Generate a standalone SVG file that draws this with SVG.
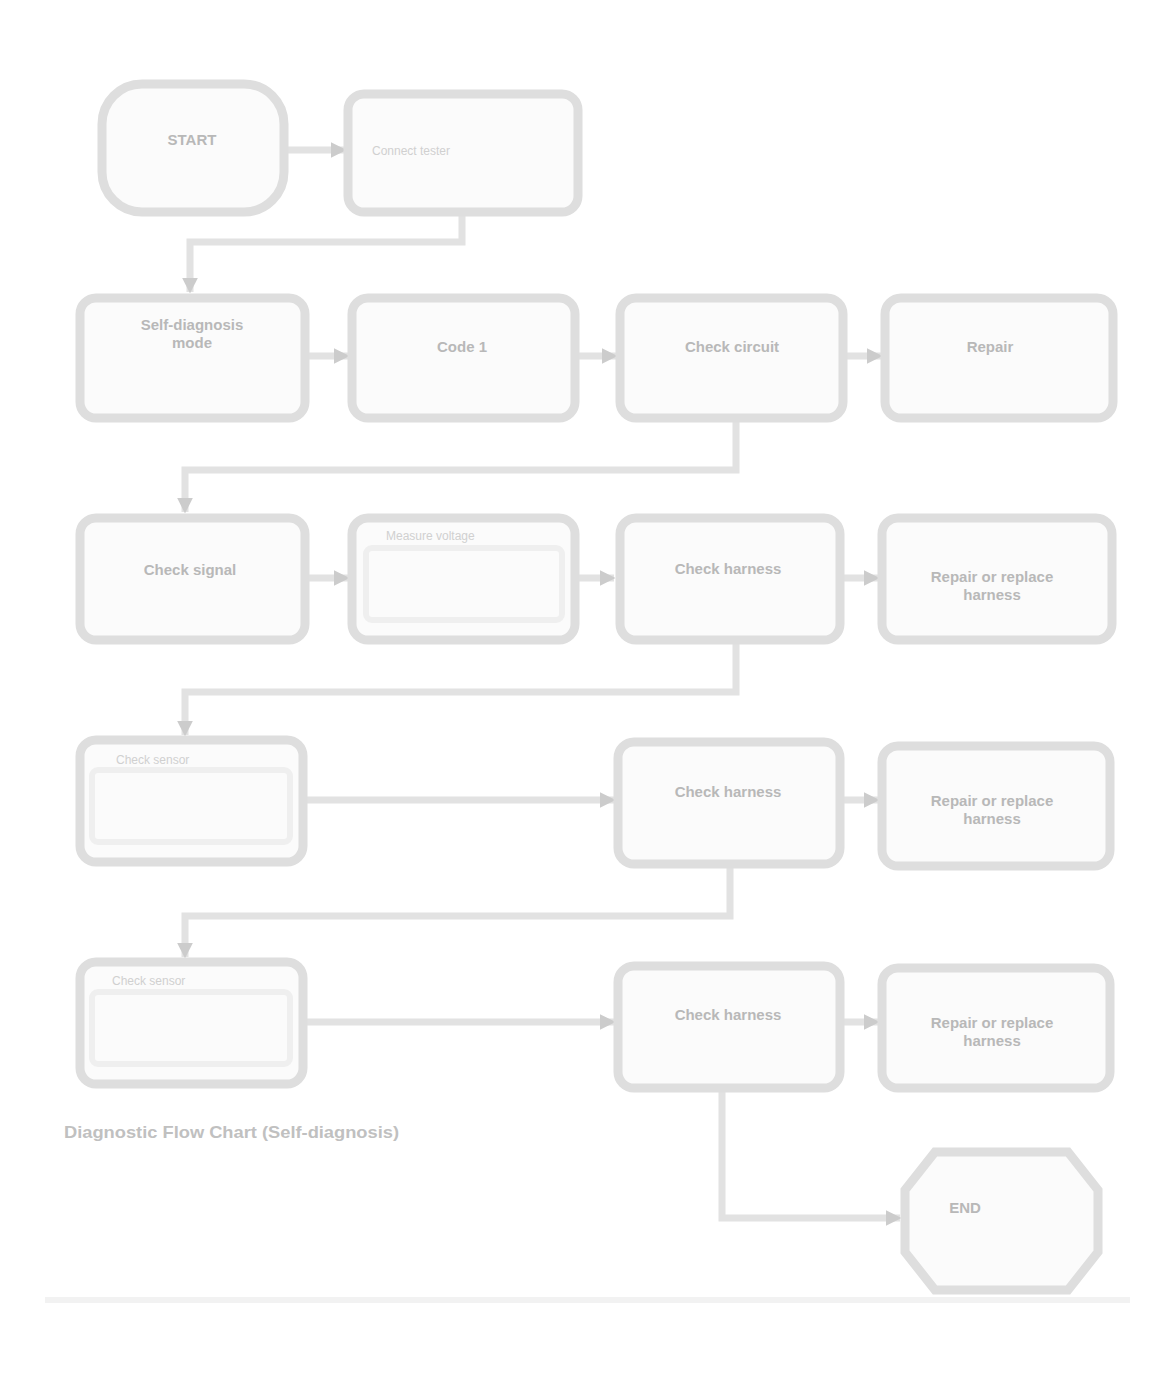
<svg xmlns="http://www.w3.org/2000/svg" width="1173" height="1376" viewBox="0 0 1173 1376">
<style>
.box{fill:#fbfbfb;stroke:#dedede;stroke-width:9}
.in{fill:none;stroke:#efefef;stroke-width:6}
.con{fill:none;stroke:#e2e2e2;stroke-width:7}
.t{font-family:"Liberation Sans",Arial,sans-serif;font-weight:bold;font-size:15px;fill:#b8b8b8;text-anchor:middle}
.s{font-family:"Liberation Sans",Arial,sans-serif;font-size:12px;fill:#d0d0d0;text-anchor:start}
.cap{font-family:"Liberation Sans",Arial,sans-serif;font-weight:bold;font-size:17px;fill:#c0c0c0}
</style>
<defs>
<marker id="ah" viewBox="0 0 10 10" refX="9" refY="5" markerUnits="userSpaceOnUse" markerWidth="16" markerHeight="16" orient="auto"><path d="M0,0 L10,5 L0,10 z" fill="#cccccc"/></marker>
</defs>
<rect width="1173" height="1376" fill="#ffffff"/>
<g id="connectors">
<path class="con" d="M285 150 L345 150" marker-end="url(#ah)"/>
<path class="con" d="M462 212 L462 242 L190 242 L190 292" marker-end="url(#ah)"/>
<path class="con" d="M305 356 L348 356" marker-end="url(#ah)"/>
<path class="con" d="M575 356 L616 356" marker-end="url(#ah)"/>
<path class="con" d="M843 356 L881 356" marker-end="url(#ah)"/>
<path class="con" d="M736 418 L736 470 L185 470 L185 512" marker-end="url(#ah)"/>
<path class="con" d="M305 578 L348 578" marker-end="url(#ah)"/>
<path class="con" d="M575 578 L614 578" marker-end="url(#ah)"/>
<path class="con" d="M840 578 L878 578" marker-end="url(#ah)"/>
<path class="con" d="M736 640 L736 692 L185 692 L185 735" marker-end="url(#ah)"/>
<path class="con" d="M303 800 L614 800" marker-end="url(#ah)"/>
<path class="con" d="M840 800 L878 800" marker-end="url(#ah)"/>
<path class="con" d="M730 864 L730 916 L185 916 L185 957" marker-end="url(#ah)"/>
<path class="con" d="M303 1022 L614 1022" marker-end="url(#ah)"/>
<path class="con" d="M840 1022 L878 1022" marker-end="url(#ah)"/>
<path class="con" d="M722 1088 L722 1218 L900 1218" marker-end="url(#ah)"/>
</g>
<g id="n_start"><rect class="box" x="102" y="84" width="182" height="128" rx="40"/><text class="t" x="192" y="145">START</text></g>
<g id="n_s2"><rect class="box" x="348" y="94" width="230" height="118" rx="16"/><text class="s" x="372" y="155">Connect tester</text></g>
<g id="n_r1a"><rect class="box" x="80" y="298" width="225" height="120" rx="16"/><text class="t" x="192" y="330">Self-diagnosis</text><text class="t" x="192" y="348">mode</text></g>
<g id="n_r1b"><rect class="box" x="352" y="298" width="223" height="120" rx="16"/><text class="t" x="462" y="352">Code 1</text></g>
<g id="n_r1c"><rect class="box" x="620" y="298" width="223" height="120" rx="16"/><text class="t" x="732" y="352">Check circuit</text></g>
<g id="n_r1d"><rect class="box" x="885" y="298" width="228" height="120" rx="16"/><text class="t" x="990" y="352">Repair</text></g>
<g id="n_r2a"><rect class="box" x="80" y="518" width="225" height="122" rx="16"/><text class="t" x="190" y="575">Check signal</text></g>
<g id="n_r2b"><rect class="box" x="352" y="518" width="223" height="122" rx="16"/><rect class="in" x="366" y="548" width="196" height="72" rx="6"/><text class="s" x="386" y="540">Measure voltage</text></g>
<g id="n_r2c"><rect class="box" x="620" y="518" width="220" height="122" rx="16"/><text class="t" x="728" y="574">Check harness</text></g>
<g id="n_r2d"><rect class="box" x="882" y="518" width="230" height="122" rx="16"/><text class="t" x="992" y="582">Repair or replace</text><text class="t" x="992" y="600">harness</text></g>
<g id="n_r3a"><rect class="box" x="80" y="740" width="223" height="122" rx="16"/><rect class="in" x="92" y="770" width="198" height="72" rx="6"/><text class="s" x="116" y="764">Check sensor</text></g>
<g id="n_r3c"><rect class="box" x="618" y="742" width="222" height="122" rx="16"/><text class="t" x="728" y="797">Check harness</text></g>
<g id="n_r3d"><rect class="box" x="882" y="746" width="228" height="120" rx="16"/><text class="t" x="992" y="806">Repair or replace</text><text class="t" x="992" y="824">harness</text></g>
<g id="n_r4a"><rect class="box" x="80" y="962" width="223" height="122" rx="16"/><rect class="in" x="92" y="992" width="198" height="72" rx="6"/><text class="s" x="112" y="985">Check sensor</text></g>
<g id="n_r4c"><rect class="box" x="618" y="966" width="222" height="122" rx="16"/><text class="t" x="728" y="1020">Check harness</text></g>
<g id="n_r4d"><rect class="box" x="882" y="968" width="228" height="120" rx="16"/><text class="t" x="992" y="1028">Repair or replace</text><text class="t" x="992" y="1046">harness</text></g>
<g id="n_end"><path class="box" d="M935 1152 L1068 1152 L1098 1190 L1098 1252 L1068 1290 L935 1290 L905 1252 L905 1190 Z"/><text class="t" x="965" y="1213">END</text></g>
<g id="caption"><text class="cap" x="64" y="1138" textLength="335" lengthAdjust="spacingAndGlyphs">Diagnostic Flow Chart (Self-diagnosis)</text></g>
<line x1="45" y1="1300" x2="1130" y2="1300" stroke="#f2f2f2" stroke-width="6"/>
</svg>
